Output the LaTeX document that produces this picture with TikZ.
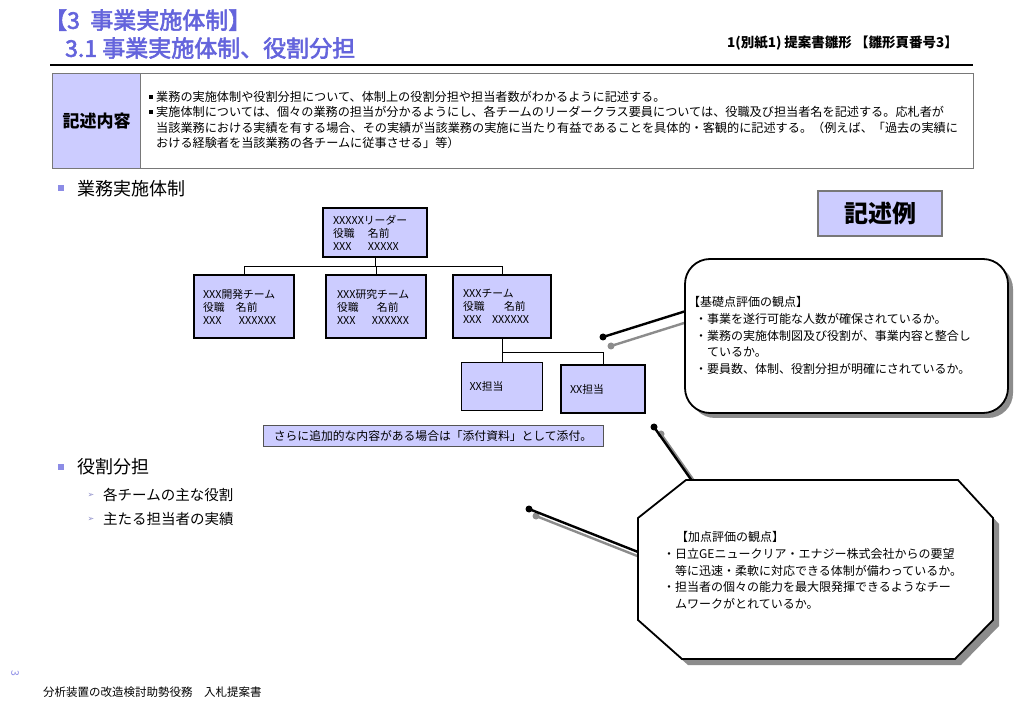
\documentclass[tikz,border=0pt]{standalone}
\usepackage{fontspec}
\setmainfont{Noto Sans CJK JP}
\newfontfamily\dejavu{DejaVu Sans}
\newfontfamily\ttlfont[FakeBold=2.5]{Noto Sans CJK JP}
\usetikzlibrary{shadows}
\definecolor{lav}{RGB}{204,204,255}
\definecolor{ttl}{RGB}{100,100,220}
\definecolor{bulb}{RGB}{140,140,230}
\definecolor{shd}{RGB}{140,140,140}
\definecolor{frame}{RGB}{120,120,120}
\begin{document}
\begin{tikzpicture}[x=1pt,y=-1pt,
  txt/.style={inner sep=0pt, anchor=base west},
  orgbox/.style={draw=black, line width=1.8pt, fill=lav, inner ysep=0pt, align=left, font=\fontsize{10.8}{13}\selectfont},
  conn/.style={draw=black, line width=0.8pt},
  ptr/.style={line width=2.4pt, draw=black},
  ptrs/.style={line width=2.4pt, draw=shd},
  callout/.style={draw=black, line width=1.8pt, fill=white},
  secbul/.style={fill=bulb, draw=none, minimum size=6pt, inner sep=0pt},
  blkbul/.style={fill=black, draw=none, minimum size=4pt, inner sep=0pt}
]
\useasboundingbox (0,0) rectangle (1023,708);
\fill[white] (0,0) rectangle (1023,708);

% ---------- title ----------
\node[txt, text=ttl, font=\ttlfont\fontsize{23}{23}\selectfont] (t1) at (44,28.8) {【3\hspace{0.45em}事業実施体制】};
\node[txt, text=ttl, font=\ttlfont\fontsize{23}{23}\selectfont] (t2) at (65,56.8) {3.1 事業実施体制、役割分担};
\node[inner sep=0pt, anchor=base east, font=\bfseries\fontsize{13.5}{13.5}\selectfont] (hdr) at (958,47.1) {1(別紙1) 提案書雛形 【雛形頁番号3】};
\coordinate (hl1) at (50,65);
\coordinate (hl2) at (973,65);
\draw[line width=1.4pt] (hl1) -- (hl2);

% ---------- description box ----------
\node[draw=frame, line width=1.2pt, minimum width=921pt, minimum height=95pt, anchor=north west, inner sep=0pt] (desc) at (52,73) {};
\node[draw=frame, line width=1.2pt, fill=lav, minimum width=88pt, minimum height=95pt, anchor=north west, inner sep=0pt, font=\bfseries\fontsize{17}{17}\selectfont] (kij) at (52,73) {記述内容};
\node[blkbul] (b1) at (150.5,97) {};
\node[blkbul] (b2) at (150.5,112.3) {};
\begin{scope}[font=\fontsize{12.15}{12.15}\selectfont]
\node[txt] (d1) at (156,101.7) {業務の実施体制や役割分担について、体制上の役割分担や担当者数がわかるように記述する。};
\node[txt] (d2) at (156,117.0) {実施体制については、個々の業務の担当が分かるようにし、各チームのリーダークラス要員については、役職及び担当者名を記述する。応札者が};
\node[txt] (d3) at (156,132.3) {当該業務における実績を有する場合、その実績が当該業務の実施に当たり有益であることを具体的・客観的に記述する。（例えば、「過去の実績に};
\node[txt] (d4) at (156,147.7) {おける経験者を当該業務の各チームに従事させる」等）};
\end{scope}

% ---------- section headings ----------
\node[secbul] (sb1) at (61,188.5) {};
\node[txt, font=\fontsize{18}{18}\selectfont] (s1) at (77,195.3) {業務実施体制};
\node[secbul] (sb2) at (61,467) {};
\node[txt, font=\fontsize{18}{18}\selectfont] (s2) at (77,473.8) {役割分担};
\node[inner sep=0pt, text=bulb!70!gray, font=\dejavu\fontsize{8}{8}\selectfont] (a1) at (91,495.5) {➢};
\node[txt, font=\fontsize{14.5}{14.5}\selectfont] (s21) at (103,500.5) {各チームの主な役割};
\node[inner sep=0pt, text=bulb!70!gray, font=\dejavu\fontsize{8}{8}\selectfont] (a2) at (91,519.5) {➢};
\node[txt, font=\fontsize{14.5}{14.5}\selectfont] (s22) at (103,524.5) {主たる担当者の実績};

% ---------- 記述例 ----------
\node[draw=frame, line width=1.5pt, fill=lav, minimum width=124pt, minimum height=45pt, inner sep=0pt, font=\bfseries\fontsize{24}{24}\selectfont] (rei) at (880,213.5) {記述例};

% ---------- org chart ----------
\node[orgbox, minimum height=49pt, text width=84pt, inner xsep=10pt] (lead) at (375,232.5)
  {XXXXXリーダー\\\makebox[35pt][l]{役職}名前\\\makebox[35pt][l]{XXX}XXXXX};
\node[orgbox, minimum height=63pt, text width=82pt, inner xsep=9pt] (dev) at (244,306.5)
  {XXX開発チーム\\\makebox[33pt][l]{役職}名前\\\makebox[36pt][l]{XXX}XXXXXX};
\node[orgbox, minimum height=63pt, text width=78pt, inner xsep=11pt] (res) at (376,306.5)
  {XXX研究チーム\\\makebox[40pt][l]{役職}名前\\\makebox[35pt][l]{XXX}XXXXXX};
\node[orgbox, minimum height=63pt, text width=78pt, inner xsep=10pt] (team) at (502,306.5)
  {XXXチーム\\\makebox[41pt][l]{役職}名前\\\makebox[29pt][l]{XXX}XXXXXX};
\node[orgbox, minimum height=48pt, text width=65pt, inner xsep=8pt] (sub1) at (502,386.5) {XX担当};
\node[orgbox, minimum height=48pt, text width=66pt, inner xsep=9pt] (sub2) at (603,389) {XX担当};

\draw[conn] (lead.south) -- ++(0,9) coordinate (bus);
\draw[conn] (dev.north) |- (bus) -| (team.north);
\draw[conn] (res.north) -- (res.north |- bus);
\draw[conn] (team.south) -- ++(0,14) coordinate (sbus) -| (sub2.north);
\draw[conn] (sbus) -- (sub1.north);

\node[draw=frame!70!black, line width=1pt, fill=lav, minimum width=340pt, minimum height=21pt, inner sep=0pt, font=\fontsize{11.8}{11.8}\selectfont] (note) at (433,436.5) {さらに追加的な内容がある場合は「添付資料」として添付。};

% ---------- shadows of callouts ----------
\fill[shd, rounded corners=25pt] (690,264) rectangle (1013,418);
\fill[shd] (692,486) -- (964,486) -- (999,524) -- (999,626) -- (961,665) -- (688,665) -- (644,626) -- (644,524) -- cycle;

% ---------- pointers ----------
\coordinate (p1) at (603,337);   \coordinate (p1t) at (700,306.6);
\coordinate (p1s) at (611,346);  \coordinate (p1st) at (700,318);
\coordinate (p2) at (654,427);   \coordinate (p2t) at (697,488);
\coordinate (p2s) at (661,434);  \coordinate (p2st) at (704,495);
\coordinate (p3) at (529,509);   \coordinate (p3t) at (650,556.7);
\coordinate (p3s) at (536,516);  \coordinate (p3st) at (650,561);
\draw[ptrs] (p1s) -- (p1st);
\draw[ptrs] (p2s) -- (p2st);
\draw[ptrs] (p3s) -- (p3st);
\fill[shd] (p1s) circle (3.5);
\fill[shd] (p2s) circle (3.5);
\fill[shd] (p3s) circle (3.5);
\draw[ptr] (p1) -- (p1t);
\draw[ptr] (p2) -- (p2t);
\draw[ptr] (p3) -- (p3t);
\fill[black] (p1) circle (3.5);
\fill[black] (p2) circle (3.5);
\fill[black] (p3) circle (3.5);

% ---------- callout 1 ----------
\node[callout, rounded corners=25pt, minimum width=323pt, minimum height=154pt, inner sep=0pt] (call1) at (846.5,336) {};
\begin{scope}[font=\fontsize{12}{12}\selectfont]
\node[txt] (c11) at (688,306.6) {【基礎点評価の観点】};
\node[txt] (c12) at (695,323.4) {・事業を遂行可能な人数が確保されているか。};
\node[txt] (c13) at (695,340.2) {・業務の実施体制図及び役割が、事業内容と整合し};
\node[txt] (c14) at (707,356.8) {ているか。};
\node[txt] (c15) at (695,373.6) {・要員数、体制、役割分担が明確にされているか。};
\end{scope}

% ---------- callout 2 (octagon) ----------
\coordinate (o1) at (686,480);
\coordinate (o2) at (958,480);
\coordinate (o3) at (993,518);
\coordinate (o4) at (993,620);
\coordinate (o5) at (955,659);
\coordinate (o6) at (682,659);
\coordinate (o7) at (638,620);
\coordinate (o8) at (638,518);
\path[callout] (o1) -- (o2) -- (o3) -- (o4) -- (o5) -- (o6) -- (o7) -- (o8) -- cycle;
\begin{scope}[font=\fontsize{12}{12}\selectfont]
\node[txt] (c21) at (676,541.6) {【加点評価の観点】};
\node[txt] (c22) at (663,558.3) {・日立GEニュークリア・エナジー株式会社からの要望};
\node[txt] (c23) at (675,575.0) {等に迅速・柔軟に対応できる体制が備わっているか。};
\node[txt] (c24) at (663,591.7) {・担当者の個々の能力を最大限発揮できるようなチー};
\node[txt] (c25) at (675,608.4) {ムワークがとれているか。};
\end{scope}

% ---------- footer ----------
\node[inner sep=0pt, rotate=-90, text=bulb, font=\fontsize{10.5}{10.5}\selectfont] (pg) at (15,673) {3};
\node[txt, font=\fontsize{11.5}{11.5}\selectfont] (foot) at (43,696.4) {分析装置の改造検討助勢役務　入札提案書};
\end{tikzpicture}
\end{document}
